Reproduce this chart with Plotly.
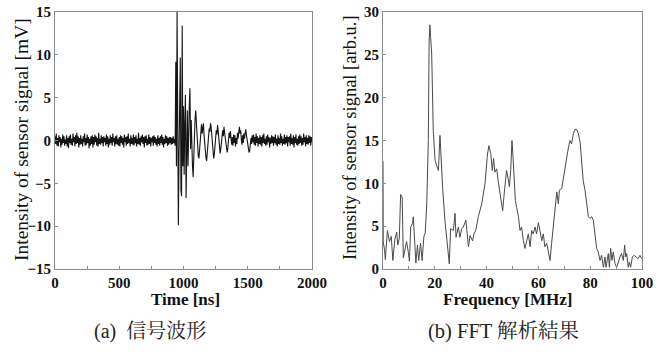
import numpy as np
import plotly.graph_objects as go

# ---- (a) sensor signal, sampled every 5 ns, 0..2000 ns ----
signal_mV = [
    # 0-95
    0.5,-0.4,0.8,-0.6,0.3,-0.7,0.6,-0.2,0.4,-0.8,0.2,-0.5,0.7,-0.3,0.5,-0.6,0.1,-0.4,0.6,-0.7,
    # 100-195
    0.3,-0.9,0.5,-0.3,0.7,-0.5,0.2,-0.6,0.8,-0.2,0.4,-0.7,0.6,-0.4,0.9,-0.3,0.5,-0.8,0.3,-0.5,
    # 200-295
    0.6,-0.4,0.2,-0.7,0.5,-0.2,0.8,-0.6,0.3,-0.5,0.7,-0.3,0.4,-0.9,0.2,-0.6,0.5,-0.4,0.6,-0.8,
    # 300-395
    0.4,-0.5,0.7,-0.2,0.5,-0.6,0.3,-0.7,0.9,-0.4,0.2,-0.5,0.6,-0.3,0.4,-0.7,0.5,-0.2,0.3,-0.6,
    # 400-495
    0.7,-0.4,0.5,-0.8,0.2,-0.5,0.6,-0.3,0.4,-0.6,0.8,-0.2,0.3,-0.7,0.5,-0.4,0.6,-0.5,0.2,-0.6,
    # 500-595
    0.4,-0.7,0.6,-0.3,0.5,-0.5,0.3,-0.8,0.7,-0.2,0.4,-0.6,0.5,-0.4,0.8,-0.3,0.2,-0.7,0.6,-0.4,
    # 600-695
    0.3,-0.5,0.7,-0.6,0.4,-0.3,0.6,-0.7,0.2,-0.4,0.9,-0.5,0.3,-0.6,0.5,-0.2,0.7,-0.4,0.4,-0.8,
    # 700-795
    0.5,-0.3,0.6,-0.6,0.2,-0.5,0.7,-0.4,0.4,-0.7,0.3,-0.2,0.5,-0.6,0.6,-0.3,0.4,-0.5,0.2,-0.7,
    # 800-895
    0.6,-0.4,0.3,-0.6,0.5,-0.3,0.7,-0.5,0.4,-0.8,0.2,-0.4,0.6,-0.3,0.5,-0.6,0.3,-0.5,0.4,-0.3,
    # 900-995
    0.4,-0.5,0.3,-0.4,0.5,-0.3,0.2,-0.6,9.2,-3.0,15.0,1.0,-9.9,-2.0,2.0,9.7,-5.8,-6.5,13.4,-3.0,
    # 1000-1095
    4.0,-4.0,2.0,5.3,-6.7,-1.0,3.5,-3.0,2.5,4.0,6.1,-1.0,2.4,-2.0,-3.0,-4.3,-1.0,1.5,2.5,3.5,
    # 1100-1195
    2.0,0.5,-1.0,-1.8,-2.1,-1.2,0.4,1.5,1.9,0.8,1.2,2.0,0.6,-0.8,-1.6,-2.0,-2.4,-1.5,-0.2,0.8,
    # 1200-1295
    1.4,1.0,2.0,1.6,0.3,-0.9,-1.8,-2.1,-1.6,-0.5,0.6,1.2,0.7,1.8,1.1,0.2,-0.7,-1.5,-1.0,-0.2,
    # 1300-1395
    0.6,1.2,0.5,1.6,0.9,0.1,-0.6,-1.1,-1.4,-0.9,0.2,0.9,0.3,1.1,0.2,-0.5,0.4,-0.6,0.7,-0.3,
    # 1400-1495
    0.6,-0.7,0.3,-0.4,0.9,0.2,1.0,1.6,0.8,1.2,0.1,-0.5,0.6,-0.3,0.8,0.2,0.9,1.3,0.6,0.1,
    # 1500-1595
    -0.6,-1.1,-1.4,-1.2,-0.5,0.3,-0.4,0.6,-0.2,0.7,-0.5,0.4,-0.6,0.8,-0.3,0.5,-0.7,0.3,-0.4,0.6,
    # 1600-1695
    -0.5,0.4,-0.7,0.6,-0.3,0.8,-0.4,0.2,-0.6,0.5,-0.5,0.7,-0.2,0.4,-0.8,0.3,-0.4,0.6,-0.3,0.5,
    # 1700-1795
    -0.6,0.4,-0.3,0.7,-0.5,0.2,-0.7,0.6,-0.4,0.3,-0.5,0.8,-0.3,0.5,-0.6,0.2,-0.4,0.7,-0.5,0.4,
    # 1800-1895
    -0.3,0.6,-0.7,0.4,-0.2,0.5,-0.6,0.8,-0.4,0.3,-0.5,0.6,-0.8,0.4,-0.3,0.7,-0.5,0.2,-0.6,0.5,
    # 1900-1995
    -0.4,0.7,-0.3,0.5,-0.6,0.3,-0.5,0.8,-0.2,0.4,-0.7,0.6,-0.4,0.3,-0.5,0.6,-0.3,0.5,-0.6,0.4,
    # 2000
    -0.2,
]
time_ns = np.arange(len(signal_mV)) * 5

# ---- (b) FFT spectrum ----
freq_MHz = [0.0, 0.05, 0.1, 0.6, 0.9, 1.7, 2.5, 3.2, 3.8, 4.6, 5.3, 5.7, 6.3, 6.8, 7.4, 7.85,
            8.5, 9.1, 9.8, 10.2, 10.7, 11.4, 11.7, 12.2, 12.7, 13.3, 13.8, 14.5, 15.1, 15.8,
            16.3, 16.9, 17.5, 17.8, 18.1, 18.4, 18.8, 19.4, 20.1, 20.7, 21.4, 22.0, 22.4,
            23.0, 23.9, 24.8, 25.6, 26.1, 27.2, 27.8, 28.2, 29.1, 29.7, 30.4, 31.0, 32.0,
            32.6, 33.0, 33.6, 34.6, 35.1, 35.8, 36.8, 38.1, 39.4, 40.3, 40.9, 41.6, 42.2,
            42.7, 43.2, 43.9, 44.5, 45.4, 46.2, 46.8, 47.7, 48.4, 48.8, 49.3, 49.8, 50.2,
            50.6, 51.1, 51.6, 52.3, 52.9, 53.5, 54.2, 54.8, 55.5, 56.1, 56.8, 57.4, 58.0,
            58.7, 59.3, 60.0, 60.6, 61.3, 61.9, 62.5, 63.2, 63.8, 64.5, 65.1, 65.8, 66.4,
            67.1, 67.7, 68.1, 69.0, 69.6, 70.3, 70.9, 71.6, 72.2, 72.8, 73.5, 74.1, 74.8,
            75.4, 76.1, 76.7, 77.3, 78.0, 78.6, 79.3, 79.9, 80.6, 81.2, 81.9, 82.5, 83.1,
            83.8, 84.4, 85.1, 85.7, 86.1, 87.0, 87.4, 87.9, 88.4, 88.9, 89.6, 90.2, 90.9,
            91.5, 92.1, 92.8, 93.3, 93.7, 94.1, 94.7, 95.1, 95.6, 96.3, 96.9, 97.7, 98.5,
            99.2, 99.9]
fft_amp = [12.6, 6.1, 3.2, 2.2, 1.1, 4.5, 3.2, 3.8, 1.0, 3.5, 4.3, 2.8, 3.6, 8.7, 8.4, 1.3,
           2.3, 3.2, 1.9, 0.9, 4.9, 5.3, 6.1, 3.8, 0.7, 2.8, 1.0, 3.0, 1.0, 3.8,
           4.2, 7.7, 15.0, 26.5, 28.5, 27.0, 25.1, 16.2, 12.7, 12.1, 11.5, 15.6, 13.1,
           9.6, 5.7, 3.3, 0.6, 4.7, 4.5, 6.5, 3.7, 4.9, 3.7, 4.7, 4.9, 5.7,
           4.1, 2.6, 3.9, 3.3, 4.1, 4.5, 6.1, 7.6, 10.0, 13.3, 14.4, 13.5, 11.5,
           12.9, 11.3, 11.7, 10.2, 8.4, 6.8, 8.8, 11.5, 10.4, 9.6, 11.5, 15.0, 13.1,
           10.0, 8.0, 7.2, 6.1, 4.5, 4.9, 3.3, 2.4, 3.3, 4.1, 2.6, 4.5, 4.1,
           4.9, 4.1, 5.4, 4.5, 3.3, 4.1, 2.6, 3.0, 2.2, 1.0, 3.0, 5.3, 7.6,
           9.0, 7.6, 9.2, 9.4, 10.5, 12.3, 13.1, 14.2, 15.0, 14.6, 15.8, 16.3, 16.3,
           15.8, 14.8, 12.7, 10.3, 9.2, 8.0, 6.1, 5.9, 6.1, 5.7, 4.1, 2.4, 2.0,
           1.0, 1.6, 0.2, 1.4, 0.2, 1.8, 0.2, 2.4, 1.0, 2.0, 0.6, 0.2, 1.0,
           1.4, 1.8, 1.0, 2.8, 1.4, 1.8, 0.2, 0.8, 0.2, 1.4, 1.6, 1.4, 1.2,
           1.6, 1.2]

# ---- tick values / labels ----
time_ticks = [0, 500, 1000, 1500, 2000]
time_ticklabels = ["0", "500", "1000", "1500", "2000"]
mv_ticks = [-15, -10, -5, 0, 5, 10, 15]
mv_ticklabels = ["\u221215", "\u221210", "\u22125", "0", "5", "10", "15"]
freq_ticks = [0, 20, 40, 60, 80, 100]
freq_ticklabels = ["0", "20", "40", "60", "80", "100"]
amp_ticks = [0, 5, 10, 15, 20, 25, 30]
amp_ticklabels = ["0", "5", "10", "15", "20", "25", "30"]

W, H = 667, 357
LX0, LX1 = 55, 312
RX0, RX1 = 383, 642
YT, YB = 12, 269

def px(x):
    return x / W

def py(y):
    return 1 - y / H

def bold(labels):
    return ["<b>%s</b>" % s for s in labels]

serif = "Liberation Serif, Times New Roman, serif"
cjk = "Liberation Serif, Noto Serif CJK JP, Noto Sans CJK JP, serif"
frame = "#8a8a8a"

fig = go.Figure()
fig.add_trace(go.Scatter(x=time_ns, y=signal_mV, mode="lines",
                         line=dict(color="#151515", width=1.1), xaxis="x", yaxis="y",
                         showlegend=False))
fig.add_trace(go.Scatter(x=freq_MHz, y=fft_amp, mode="lines",
                         line=dict(color="#4a4a4a", width=1), xaxis="x2", yaxis="y2",
                         showlegend=False))

tickfont = dict(family=serif, size=15, color="#111")
common = dict(showline=True, mirror=True, linecolor=frame, linewidth=1,
              ticks="inside", ticklen=3, tickcolor=frame, showgrid=False,
              zeroline=False, tickfont=tickfont, automargin=False)

fig.update_layout(
    width=W, height=H,
    margin=dict(l=0, r=0, t=0, b=0, pad=0),
    paper_bgcolor="white", plot_bgcolor="white",
    xaxis=dict(domain=[px(LX0), px(LX1)], range=[0, 2000], anchor="y",
               tickmode="array", tickvals=time_ticks, ticktext=bold(time_ticklabels),
               minor=dict(dtick=250, ticks="inside", ticklen=3, tickcolor=frame),
               **common),
    yaxis=dict(domain=[py(YB), py(YT)], range=[-15, 15], anchor="x",
               tickmode="array", tickvals=mv_ticks, ticktext=bold(mv_ticklabels),
               **common),
    xaxis2=dict(domain=[px(RX0), px(RX1)], range=[0, 100], anchor="y2",
                tickmode="array", tickvals=freq_ticks, ticktext=bold(freq_ticklabels),
                minor=dict(dtick=10, ticks="inside", ticklen=3, tickcolor=frame),
                **common),
    yaxis2=dict(domain=[py(YB), py(YT)], range=[0, 30], anchor="x2",
                tickmode="array", tickvals=amp_ticks, ticktext=bold(amp_ticklabels),
                **common),
)

def label(x, y, text, size, family=serif, angle=0, color="#111"):
    fig.add_annotation(x=px(x), y=py(y), xref="paper", yref="paper", text=text,
                       showarrow=False, textangle=angle, xanchor="center",
                       yanchor="middle", font=dict(family=family, size=size, color=color))

label(185, 299, "<b>Time [ns]</b>", 17)
label(508, 299, "<b>Frequency [MHz]</b>", 17)
label(22, 140, "Intensity of sensor signal [mV]", 19.5, angle=-90)
label(350, 137, "Intensity of sensor signal [arb.u.]", 18.5, angle=-90)
label(150, 331, "(a)  信号波形", 20, family=cjk, color="#222")
label(503, 331, "(b) FFT 解析結果", 20.5, family=cjk, color="#222")

fig.write_html("out.html")
